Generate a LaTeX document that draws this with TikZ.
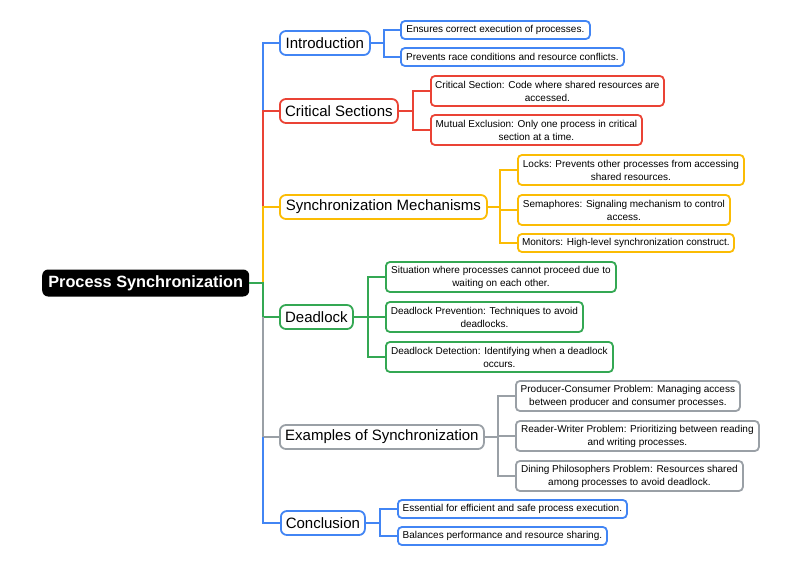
\documentclass[tikz,border=0pt]{standalone}
\usepackage{fontspec}
\setmainfont{Liberation Sans}
\definecolor{cblue}{HTML}{4285F4}
\definecolor{cred}{HTML}{EA4335}
\definecolor{cyel}{HTML}{FBBC04}
\definecolor{cgreen}{HTML}{34A853}
\definecolor{cgray}{HTML}{9AA0A6}
\begin{document}
\begin{tikzpicture}[x=1pt,y=-1pt,
  conn/.style={line width=2},
  leaf/.style={draw=#1, line width=1.8, rounded corners=4, fill=white,
    font=\fontsize{10}{13}\selectfont, align=center, inner sep=0,
    minimum height=18, anchor=west},
  branch/.style={draw=#1, line width=1.8, rounded corners=6, fill=white,
    font=\fontsize{15}{18}\selectfont, inner sep=0, minimum height=24, anchor=west},
  rootbox/.style={fill=black, text=white, rounded corners=6, inner sep=0,
    font=\fontsize{16.3}{19}\selectfont\bfseries, minimum height=27, anchor=west}]
\useasboundingbox (0,0) rectangle (800,567);
% root
\node[rootbox, minimum width=207] (root) at (42,283) {Process Synchronization};
% trunk coordinates
\coordinate (jc) at (263,111);
\coordinate (js) at (263,207);
\coordinate (j0) at (263,283);
\coordinate (jd) at (263,317);
\coordinate (je) at (263,437);
% branches
\node[branch=cblue, minimum width=90] (intro) at (279,43) {Introduction};
\node[branch=cred, minimum width=118] (crit) at (279,111) {Critical Sections};
\node[branch=cyel, minimum width=207] (sync) at (279,207) {Synchronization Mechanisms};
\node[branch=cgreen, minimum width=73] (dead) at (279,317) {Deadlock};
\node[branch=cgray, minimum width=204] (ex) at (279,437) {Examples of Synchronization};
\node[branch=cblue, minimum width=84] (concl) at (280,523) {Conclusion};
% trunk connectors
\draw[conn, cblue] (intro.west) -| (jc);
\draw[conn, cred] (crit.west) -| (js);
\draw[conn, cyel] (sync.west) -| (j0);
\draw[conn, cgreen] (root.east) -- (j0) |- (dead.west);
\draw[conn, cgray] (jd) |- (ex.west);
\draw[conn, cblue] (je) |- (concl.west);
% leaves
\node[leaf=cblue, minimum width=189] (i1) at (400,30) {Ensures correct execution of processes.};
\node[leaf=cblue, minimum width=223] (i2) at (400,57) {Prevents race conditions and resource conflicts.};
\node[leaf=cred, minimum width=233, minimum height=30] (c1) at (430,91) {Critical Section: Code where shared resources are\\accessed.};
\node[leaf=cred, minimum width=211, minimum height=30] (c2) at (430,130) {Mutual Exclusion: Only one process in critical\\section at a time.};
\node[leaf=cyel, minimum width=226, minimum height=30] (s1) at (517,170) {Locks: Prevents other processes from accessing\\shared resources.};
\node[leaf=cyel, minimum width=212, minimum height=30] (s2) at (517,210) {Semaphores: Signaling mechanism to control\\access.};
\node[leaf=cyel, minimum width=216] (s3) at (517,243) {Monitors: High-level synchronization construct.};
\node[leaf=cgreen, minimum width=230, minimum height=30] (d1) at (385,277) {Situation where processes cannot proceed due to\\waiting on each other.};
\node[leaf=cgreen, minimum width=197, minimum height=30] (d2) at (385,317) {Deadlock Prevention: Techniques to avoid\\deadlocks.};
\node[leaf=cgreen, minimum width=227, minimum height=30] (d3) at (385,357) {Deadlock Detection: Identifying when a deadlock\\occurs.};
\node[leaf=cgray, minimum width=224, minimum height=30] (e1) at (515,396) {Producer-Consumer Problem: Managing access\\between producer and consumer processes.};
\node[leaf=cgray, minimum width=243, minimum height=30] (e2) at (515,436) {Reader-Writer Problem: Prioritizing between reading\\and writing processes.};
\node[leaf=cgray, minimum width=227, minimum height=30] (e3) at (515,476) {Dining Philosophers Problem: Resources shared\\among processes to avoid deadlock.};
\node[leaf=cblue, minimum width=229] (k1) at (397,509) {Essential for efficient and safe process execution.};
\node[leaf=cblue, minimum width=209] (k2) at (397,536) {Balances performance and resource sharing.};
% leaf junctions
\coordinate (ji) at (384,43);
\coordinate (jcr) at (413,111);
\coordinate (jsy) at (500,207);
\coordinate (jde) at (368,317);
\coordinate (jex) at (498,437);
\coordinate (jco) at (380,523);
\draw[conn, cblue] (intro.east) -- (ji) |- (i1.west);
\draw[conn, cblue] (ji) |- (i2.west);
\draw[conn, cred] (crit.east) -- (jcr) |- (c1.west);
\draw[conn, cred] (jcr) |- (c2.west);
\draw[conn, cyel] (sync.east) -- (jsy) |- (s1.west);
\draw[conn, cyel] (jsy) |- (s2.west);
\draw[conn, cyel] (jsy) |- (s3.west);
\draw[conn, cgreen] (dead.east) -- (jde) |- (d1.west);
\draw[conn, cgreen] (jde) |- (d2.west);
\draw[conn, cgreen] (jde) |- (d3.west);
\draw[conn, cgray] (ex.east) -- (jex) |- (e1.west);
\draw[conn, cgray] (jex) |- (e2.west);
\draw[conn, cgray] (jex) |- (e3.west);
\draw[conn, cblue] (concl.east) -- (jco) |- (k1.west);
\draw[conn, cblue] (jco) |- (k2.west);
\end{tikzpicture}
\end{document}
